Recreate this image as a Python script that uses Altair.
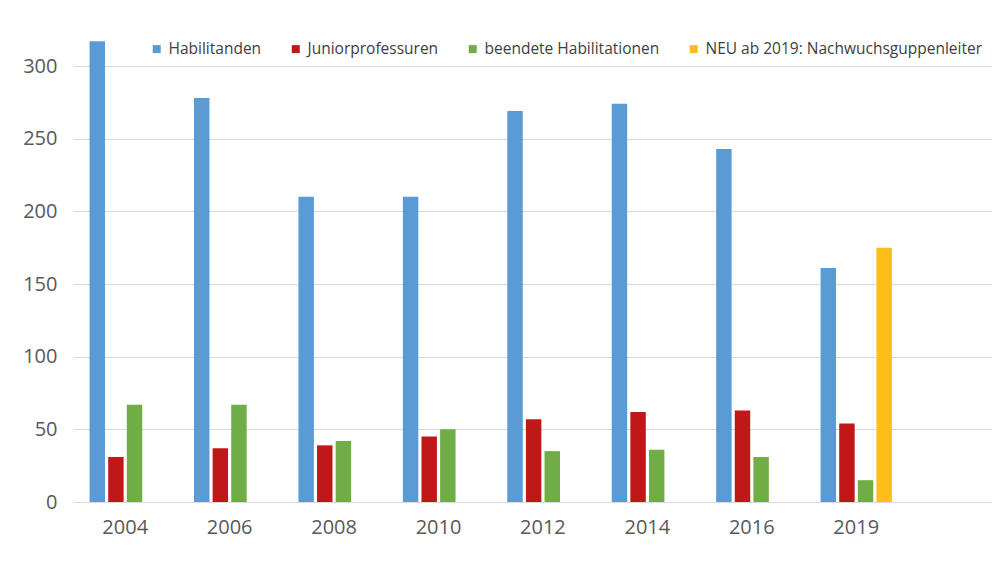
import altair as alt
import pandas as pd

years = ["2004", "2006", "2008", "2010", "2012", "2014", "2016", "2019"]
series = ["Habilitanden", "Juniorprofessuren", "beendete Habilitationen",
          "NEU ab 2019: Nachwuchsguppenleiter"]
colors = ["#5B9BD5", "#C01818", "#70AD47", "#FDBE19"]

habilitanden = [317, 278, 210, 210, 269, 274, 243, 161]
juniorprof = [31, 37, 39, 45, 57, 62, 63, 54]
beendete = [67, 67, 42, 50, 35, 36, 31, 15]
neu_years = ["2019"]
neu_values = [175]

rows = []
for y, a, b, c in zip(years, habilitanden, juniorprof, beendete):
    rows.append({"year": y, "series": series[0], "value": a})
    rows.append({"year": y, "series": series[1], "value": b})
    rows.append({"year": y, "series": series[2], "value": c})
for y, v in zip(neu_years, neu_values):
    rows.append({"year": y, "series": series[3], "value": v})
df = pd.DataFrame(rows)

FONT = "Open Sans"

chart = alt.Chart(df).mark_bar().encode(
    x=alt.X("year:N", sort=years,
            scale=alt.Scale(paddingInner=0, paddingOuter=0.4, align=0),
            axis=alt.Axis(title=None, labelAngle=0, ticks=False,
                          domainColor="#d9d9d9", domainWidth=1.2,
                          labelFontSize=20, labelColor="#595959",
                          labelFont=FONT, labelPadding=15, grid=False)),
    xOffset=alt.XOffset("series:N", sort=series,
                        scale=alt.Scale(domain=series, paddingInner=0.17,
                                        paddingOuter=0.89)),
    y=alt.Y("value:Q",
            scale=alt.Scale(domain=[0, 320], nice=False),
            axis=alt.Axis(title=None, values=[0, 50, 100, 150, 200, 250, 300],
                          domain=False, ticks=False, gridColor="#d9d9d9",
                          gridWidth=1.2, labelFontSize=20, labelColor="#595959",
                          labelFont=FONT, labelPadding=16,
                          minExtent=60, maxExtent=60)),
    color=alt.Color("series:N", sort=series,
                    scale=alt.Scale(domain=series, range=colors),
                    legend=alt.Legend(title=None, orient="none",
                                      direction="horizontal",
                                      legendX=76, legendY=4,
                                      symbolType="square", symbolSize=64,
                                      symbolStrokeWidth=0,
                                      labelFontSize=15.5, labelColor="#404040",
                                      labelFont=FONT, labelOffset=4,
                                      columnPadding=26, labelLimit=400)),
).properties(
    width=919, height=465,
    padding={"left": 5, "top": 29, "right": 0, "bottom": 5},
).configure_view(stroke=None)

chart.save("out.html", embed_options={"renderer": "svg", "actions": False})
